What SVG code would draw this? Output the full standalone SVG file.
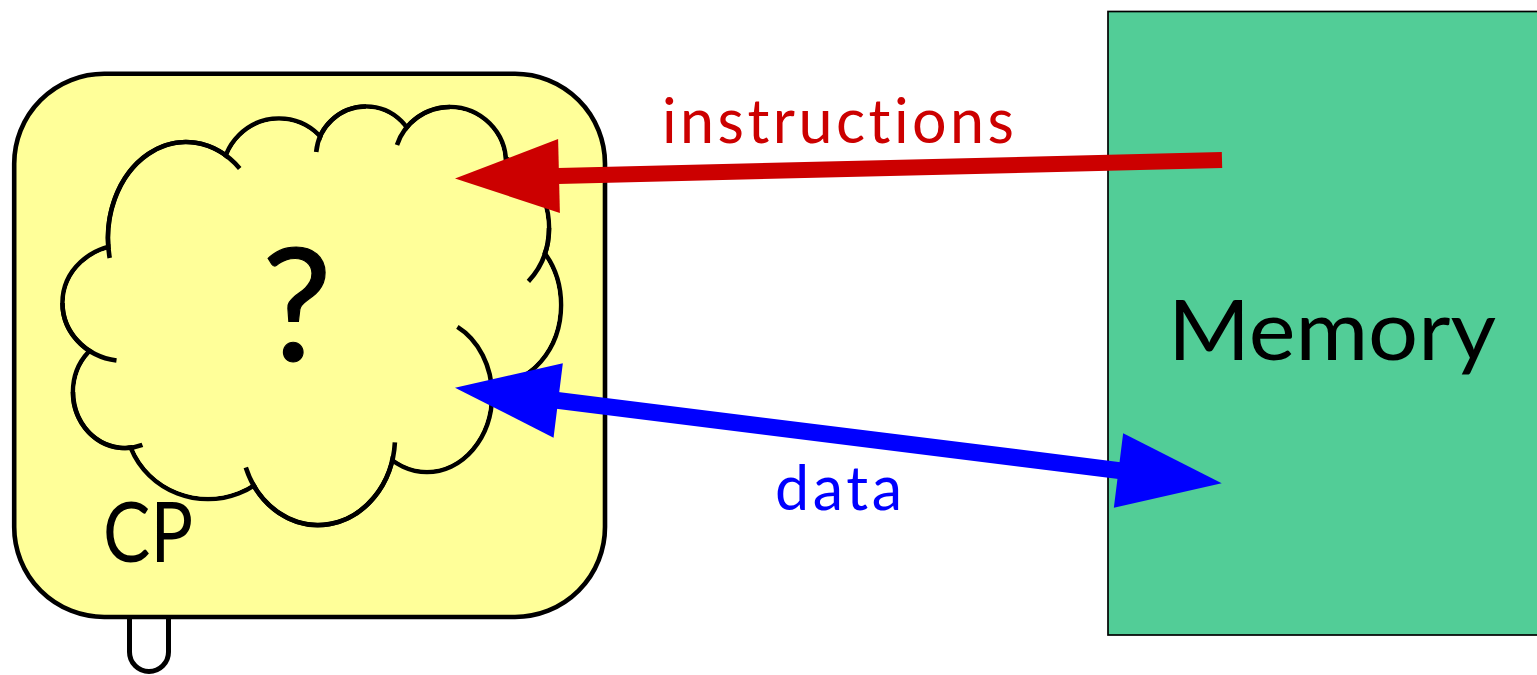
<svg xmlns="http://www.w3.org/2000/svg" width="1537" height="675" viewBox="0 0 1537 675">
<style>
.ol{fill:none;stroke:#000;stroke-width:4.6}
.fl{fill:#FFFF99;stroke:none}
.lbl{font-family:Lato,"Liberation Sans",sans-serif;font-variant-ligatures:none}
</style>
<defs>
<marker id="headR" markerUnits="userSpaceOnUse" viewBox="-2 -38 106 76" markerWidth="106" markerHeight="76" refX="0" refY="0" orient="auto">
<path d="M-1,-37 L103,0 L-1,37 z" fill="#CC0000"/>
</marker>
<marker id="headB" markerUnits="userSpaceOnUse" viewBox="-2 -38 106 76" markerWidth="106" markerHeight="76" refX="0" refY="0" orient="auto-start-reverse">
<path d="M-1,-37.5 L103,0 L-1,37.5 z" fill="#0000FF"/>
</marker>
</defs>
<rect width="1537" height="675" fill="#fff"/>
<g id="memory">
<rect x="1108" y="11.5" width="450" height="623.5" fill="#52CD97" stroke="#000" stroke-width="1.7"/>
<text class="lbl" x="1332" y="360" font-size="84" text-anchor="middle" textLength="328" lengthAdjust="spacingAndGlyphs" fill="#000">Memory</text>
</g>
<g id="cp">
<path d="M129.5,600 V652 A19.5,19.5 0 0 0 168.5,652 V600" fill="#fff" stroke="#000" stroke-width="5"/>
<rect x="14.2" y="73.7" width="590.8" height="543.3" rx="90" ry="90" fill="#FFFF99" stroke="#000" stroke-width="4.6"/>
<text class="lbl" x="103" y="561.7" font-size="83" textLength="90" lengthAdjust="spacingAndGlyphs" fill="#000">CP</text>
</g>
<g id="cloud">
<g class="ol">
<ellipse cx="186" cy="238" rx="78" ry="96"/>
<ellipse cx="279" cy="175" rx="56.5" ry="56.5"/>
<ellipse cx="366" cy="156.5" rx="50" ry="50"/>
<ellipse cx="450" cy="163" rx="56" ry="56"/>
<ellipse cx="480" cy="228" rx="69" ry="75"/>
<ellipse cx="492" cy="305" rx="69" ry="80"/>
<ellipse cx="427" cy="395" rx="65" ry="77"/>
<ellipse cx="318" cy="437" rx="77" ry="88"/>
<ellipse cx="208" cy="418" rx="83" ry="81"/>
<ellipse cx="125" cy="392" rx="52" ry="56"/>
<ellipse cx="125" cy="303" rx="62.5" ry="58"/>
</g>
<g class="fl">
<ellipse cx="186" cy="238" rx="75.7" ry="93.7"/>
<ellipse cx="279" cy="175" rx="54.2" ry="54.2"/>
<ellipse cx="366" cy="156.5" rx="47.7" ry="47.7"/>
<ellipse cx="450" cy="163" rx="53.7" ry="53.7"/>
<ellipse cx="480" cy="228" rx="66.7" ry="72.7"/>
<ellipse cx="492" cy="305" rx="66.7" ry="77.7"/>
<ellipse cx="427" cy="395" rx="62.7" ry="74.7"/>
<ellipse cx="318" cy="437" rx="74.7" ry="85.7"/>
<ellipse cx="208" cy="418" rx="80.7" ry="78.7"/>
<ellipse cx="125" cy="392" rx="49.7" ry="53.7"/>
<ellipse cx="125" cy="303" rx="60.2" ry="55.7"/>
<polygon points="186,238 279,175 366,156.5 450,163 480,228 492,305 427,395 318,437 208,418 125,392 125,303"/>
</g>
<g class="ol">
<path d="M109.7,258 A78,96 0 0 1 239.7,168.4"/>
<path d="M316.2,152 A50,50 0 0 1 366,106.5"/>
<path d="M397,145 A56,56 0 0 1 450,107"/>
<path d="M549,228 A69,75 0 0 1 528.4,281.4"/>
<path d="M457.4,326.9 A65,77 0 0 1 492,395"/>
<path d="M394.9,442.4 A77,88 0 0 1 245.8,467.5"/>
<path d="M73,392 A52,56 0 0 0 142.4,444.8"/>
<path d="M62.5,303 A62.5,58 0 0 0 116.5,360.5"/>
</g>
<text class="lbl" x="297" y="361" font-size="157" text-anchor="middle" fill="#000" stroke="#000" stroke-width="1.2">?</text>
</g>
<g id="connectors">
<line x1="1222" y1="160" x2="558" y2="176" stroke="#CC0000" stroke-width="16" marker-end="url(#headR)"/>
<line x1="557.2" y1="400.4" x2="1119.5" y2="470.6" stroke="#0000FF" stroke-width="17" marker-start="url(#headB)" marker-end="url(#headB)"/>
<text class="lbl" x="662" y="143.3" font-size="61" textLength="352" lengthAdjust="spacing" fill="#CC0000">instructions</text>
<text class="lbl" x="775" y="510" font-size="61" textLength="127" lengthAdjust="spacing" fill="#0000FF">data</text>
</g>
</svg>
